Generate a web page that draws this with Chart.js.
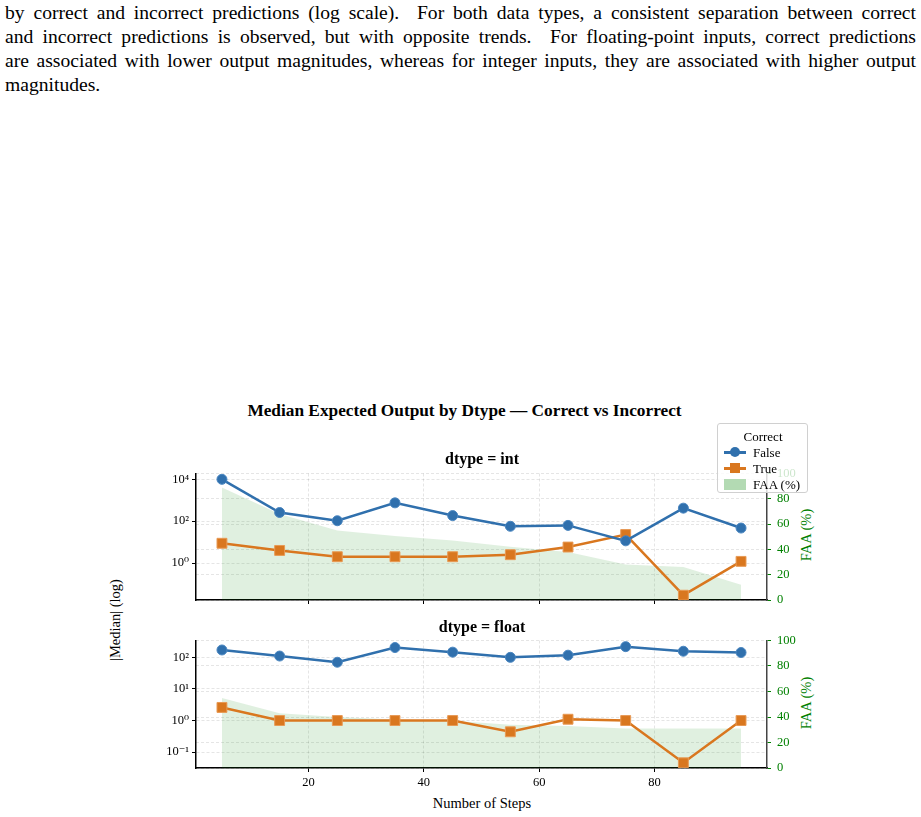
<!DOCTYPE html>
<html>
<head>
<meta charset="utf-8">
<script src="https://cdn.jsdelivr.net/npm/chart.js@4.4.1/dist/chart.umd.min.js"></script>
<style>
  body { margin: 0; background: #fff; width: 921px; height: 817px; position: relative; overflow: hidden;
         font-family: "Liberation Serif", "DejaVu Serif", serif; color: #000; }
  .para { position: absolute; left: 5px; top: 1.4px; width: 911px; font-size: 19.6px; line-height: 23.9px; }
  .para div { text-align: justify; text-align-last: justify; white-space: nowrap; }
  .para div.last { text-align-last: left; }
  .txt { position: absolute; transform: translate(-50%, -50%); white-space: nowrap; line-height: 1; }
  .rot { transform: translate(-50%, -50%) rotate(-90deg); }
  canvas { position: absolute; }
  #legend { position: absolute; left: 717px; top: 423px; width: 89px; height: 68px; border: 1px solid #d0d0d0;
            border-radius: 3px; background: rgba(255,255,255,0.8); font-size: 13px; z-index: 5; }
  #legend .item { position: absolute; left: 0; width: 89px; height: 16px; }
  #legend .line { position: absolute; left: 6px; top: 7px; width: 22px; height: 2.5px; }
  #legend .mk { position: absolute; left: 12px; top: 3px; width: 10px; height: 10px; }
  #legend .lab { position: absolute; left: 35px; top: 1px; }
</style>
</head>
<body>

<div class="para">
  <div>by correct and incorrect predictions (log scale).&nbsp; For both data types, a consistent separation between correct</div>
  <div>and incorrect predictions is observed, but with opposite trends.&nbsp; For floating-point inputs, correct predictions</div>
  <div>are associated with lower output magnitudes, whereas for integer inputs, they are associated with higher output</div>
  <div class="last">magnitudes.</div>
</div>

<div class="txt" style="left:464.5px; top:411px; font-size:17.3px; font-weight:bold;">Median Expected Output by Dtype — Correct vs Incorrect</div>
<div class="txt" style="left:482px; top:459px; font-size:16px; font-weight:bold; z-index:2;">dtype = int</div>
<div class="txt" style="left:482px; top:627px; font-size:16px; font-weight:bold; z-index:2;">dtype = float</div>
<div class="txt" style="left:482px; top:803px; font-size:14.5px;">Number of Steps</div>
<div class="txt rot" style="left:115px; top:620px; font-size:14.5px;">|Median| (log)</div>
<div class="txt rot" style="left:806px; top:535px; font-size:14.5px; color:green;">FAA (%)</div>
<div class="txt rot" style="left:806px; top:703px; font-size:14.5px; color:green;">FAA (%)</div>

<canvas id="intChart" style="left:100px; top:460px;" width="730" height="155"></canvas>
<canvas id="floatChart" style="left:100px; top:627px;" width="730" height="166"></canvas>

<div id="legend">
  <div class="txt" style="left:45px; top:12px; font-size:13px;">Correct</div>
  <div class="item" style="top:20px;">
    <div class="line" style="background:#3070ad;"></div>
    <div class="mk" style="background:#3070ad; border-radius:50%;"></div>
    <div class="lab">False</div>
  </div>
  <div class="item" style="top:36px;">
    <div class="line" style="background:#d9771f;"></div>
    <div class="mk" style="background:#d9771f;"></div>
    <div class="lab">True</div>
  </div>
  <div class="item" style="top:52px;">
    <div style="position:absolute; left:6px; top:3px; width:22px; height:11px; background:#b3dab3;"></div>
    <div class="lab">FAA (%)</div>
  </div>
</div>

<script>
// --- data ---
const steps = [5, 15, 25, 35, 45, 55, 65, 75, 85, 95];
const xTicks = [20, 40, 60, 80];

// dtype = int
const intFalse = [10000, 260, 105, 750, 185, 57, 63, 11.5, 420, 47];
const intTrue  = [8.8, 4.0, 2.0, 2.0, 2.0, 2.5, 5.8, 23, 0.029, 1.2];
const intFaa   = [89, 68, 55, 50.5, 47, 42, 38, 28, 26, 12];
const intLogTicks = [1, 100, 10000];

// dtype = float
const floatFalse = [171, 110, 70, 204, 146, 100, 117, 218, 156, 142];
const floatTrue  = [2.6, 1.0, 1.0, 1.0, 1.0, 0.44, 1.1, 1.0, 0.046, 1.0];
const floatFaa   = [55, 43, 40, 38, 37, 34, 33, 31, 31, 31];
const floatLogTicks = [0.1, 1, 10, 100];

const faaTicks = [0, 20, 40, 60, 80, 100];

const BLUE = '#3070ad';
const ORANGE = '#d9771f';
const GREEN = 'green';
const GRID = 'rgba(0,0,0,0.13)';
const FONT = { family: '"Liberation Serif", "DejaVu Serif", serif', size: 12.5 };

const sup = { '-': '⁻', '0': '⁰', '1': '¹', '2': '²', '3': '³', '4': '⁴', '5': '⁵', '6': '⁶', '7': '⁷', '8': '⁸', '9': '⁹' };
function logLabel(v) {
    const e = String(Math.round(Math.log10(v)));
    return '10' + e.split('').map(c => sup[c]).join('');
}

function pts(vals) {
    return steps.map((s, i) => ({ x: s, y: vals[i] }));
}

function makeChart(id, cfg) {
    const ctx = document.getElementById(id).getContext('2d');
    return new Chart(ctx, {
        type: 'line',
        data: {
            datasets: [
                {
                    label: 'False', data: pts(cfg.falseVals), yAxisID: 'y', order: 1,
                    borderColor: BLUE, backgroundColor: BLUE, borderWidth: 2.5,
                    pointStyle: 'circle', pointRadius: 5, pointBorderColor: '#4a86c0', pointBorderWidth: 1,
                    pointBackgroundColor: BLUE, tension: 0
                },
                {
                    label: 'True', data: pts(cfg.trueVals), yAxisID: 'y', order: 1,
                    borderColor: ORANGE, backgroundColor: ORANGE, borderWidth: 2.5,
                    pointStyle: 'rect', pointRadius: 7, pointBorderColor: '#e89a55', pointBorderWidth: 1,
                    pointBackgroundColor: ORANGE, tension: 0
                },
                {
                    label: 'FAA (%)', data: pts(cfg.faaVals), yAxisID: 'y2', order: 5,
                    borderWidth: 0, borderColor: 'rgba(0,0,0,0)', pointRadius: 0,
                    backgroundColor: 'rgba(0,128,0,0.12)', fill: 'origin', tension: 0
                }
            ]
        },
        options: {
            responsive: false,
            animation: false,
            layout: { padding: { top: 10, left: 0, right: 0, bottom: 0 } },
            plugins: { legend: { display: false }, tooltip: { enabled: false }, title: { display: false } },
            scales: {
                x: {
                    type: 'linear', position: 'bottom', min: 0.5, max: 99.5,
                    afterBuildTicks: s => { s.ticks = xTicks.map(v => ({ value: v })); },
                    afterFit: s => { s.height = cfg.xHeight; },
                    grid: { color: GRID, lineWidth: 0.8, tickLength: 4, tickColor: '#000', tickWidth: 1 },
                    border: { display: true, color: '#000', width: 1.5, dash: [3, 2] },
                    ticks: { display: cfg.showX, color: '#000', font: FONT, padding: 3, maxRotation: 0 }
                },
                y: {
                    type: 'logarithmic', position: 'left', min: cfg.yMin, max: cfg.yMax,
                    afterBuildTicks: s => { s.ticks = cfg.logTicks.map(v => ({ value: v })); },
                    afterFit: s => { s.width = 96; },
                    grid: { color: GRID, lineWidth: 0.8, tickLength: 4, tickColor: '#000', tickWidth: 1 },
                    border: { display: true, color: '#000', width: 1.5, dash: [3, 2] },
                    ticks: { color: '#000', font: FONT, padding: 3, callback: v => logLabel(v) }
                },
                y2: {
                    type: 'linear', position: 'right', min: 0, max: 100,
                    afterBuildTicks: s => { s.ticks = faaTicks.map(v => ({ value: v })); },
                    afterFit: s => { s.width = 63; },
                    grid: { color: GRID, lineWidth: 0.8, tickLength: 4, tickColor: GREEN, tickWidth: 1 },
                    border: { display: true, color: '#444', width: 1.5, dash: [3, 2] },
                    ticks: { color: GREEN, font: FONT, padding: 6 }
                }
            }
        }
    });
}

makeChart('intChart', {
    falseVals: intFalse, trueVals: intTrue, faaVals: intFaa, logTicks: intLogTicks,
    yMin: Math.pow(10, -1.767), yMax: Math.pow(10, 4.279), xHeight: 15, showX: false
});

makeChart('floatChart', {
    falseVals: floatFalse, trueVals: floatTrue, faaVals: floatFaa, logTicks: floatLogTicks,
    yMin: Math.pow(10, -1.502), yMax: Math.pow(10, 2.533), xHeight: 25, showX: true
});
</script>
</body>
</html>
